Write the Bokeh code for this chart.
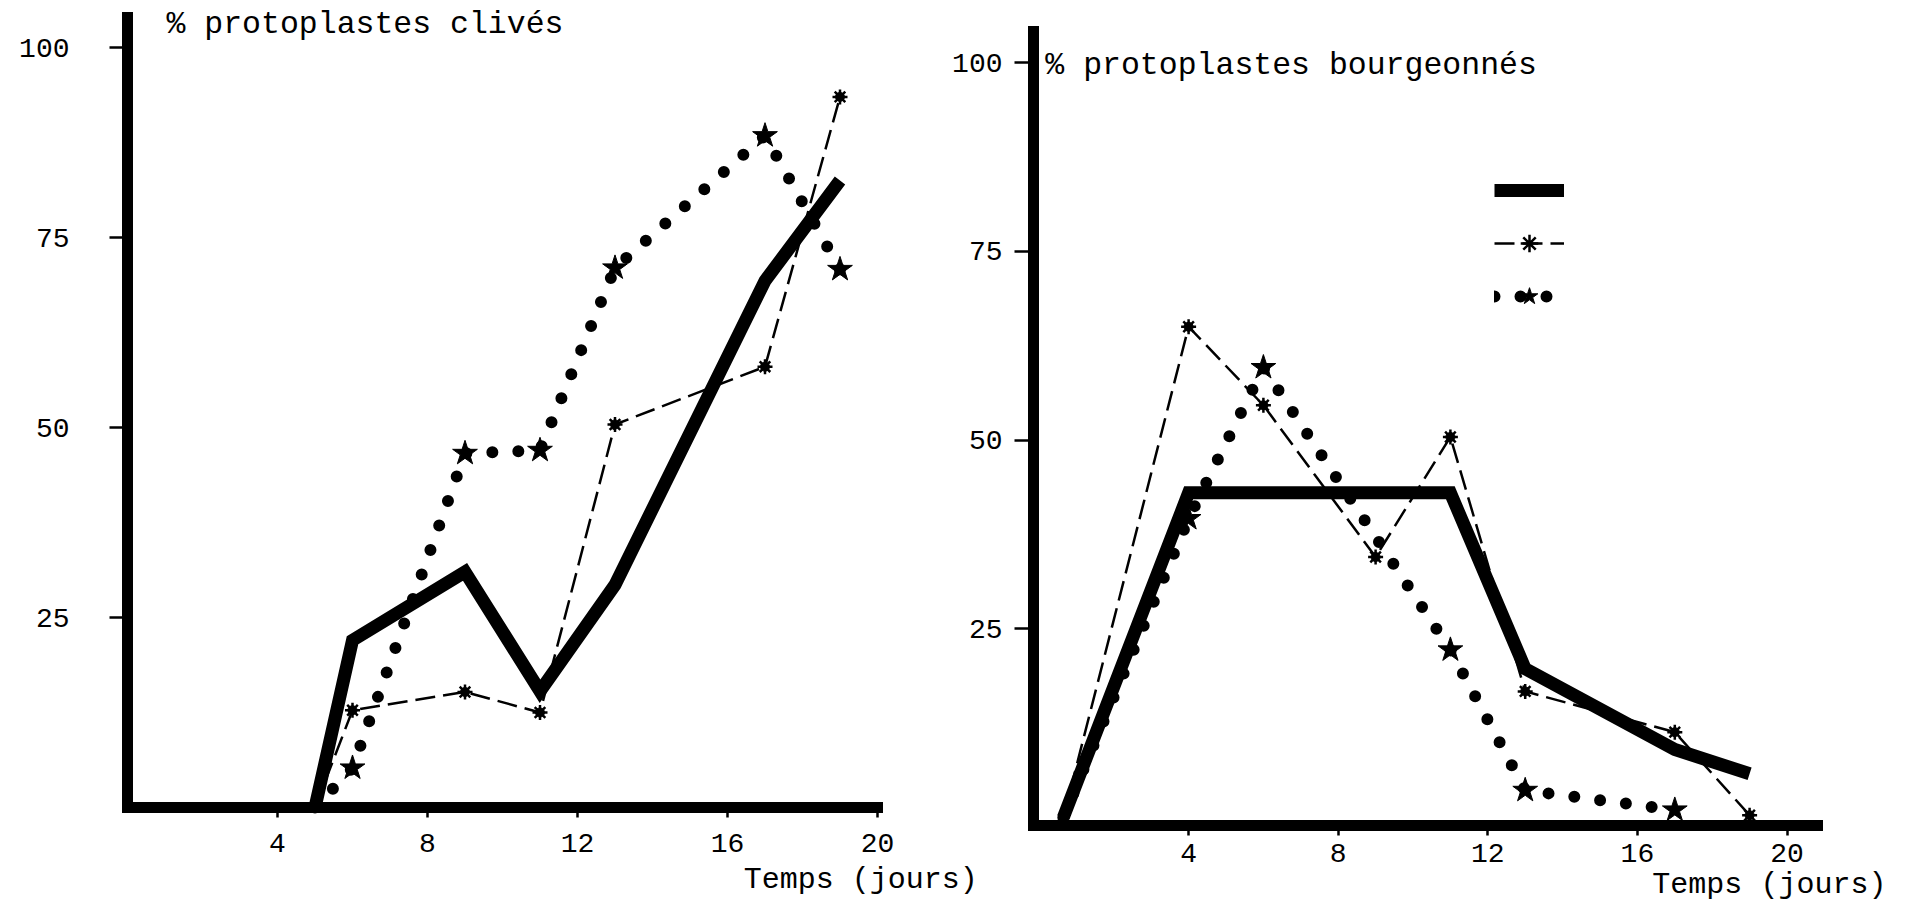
from bokeh.plotting import figure
from bokeh.models import FixedTicker, Label, Legend, LegendItem, Range1d, LinearAxis
from bokeh.embed import file_html
from bokeh.resources import INLINE

# ---------------- data ----------------
x_ticks = [4, 8, 12, 16, 20]
y_ticks = [25, 50, 75, 100]

left_title = "% protoplastes clivés"
right_title = "% protoplastes bourgeonnés"
x_title = "Temps (jours)"

# left panel : % protoplastes clivés
left_days_solid = [5, 6, 9, 11, 13, 17, 19]
left_solid = [0, 22, 31, 15.3, 29.3, 69.3, 82.5]
left_days_dashed = [5, 6, 9, 11, 13, 17, 19]
left_dashed = [0, 12.8, 15.2, 12.5, 50.4, 58, 93.5]
left_days_stars = [5, 6, 9, 11, 13, 17, 19]
left_stars = [0, 5.2, 46.6, 47, 71, 88.4, 70.8]

# right panel : % protoplastes bourgeonnés
right_days_solid = [0.65, 4, 11, 13, 17, 19]
right_solid = [0, 43, 43, 19.7, 9, 5.8]
right_days_dashed = [0.65, 4, 6, 9, 11, 13, 17, 19]
right_dashed = [0, 65, 54.6, 34.5, 50.4, 16.7, 11.3, 0.3]
right_days_stars = [0.65, 4, 6, 11, 13, 17]
right_stars = [0, 39.6, 59.6, 22.2, 3.6, 1.0]

FONT = "Liberation Mono"
W, H = 1918, 904

# one frame covering the whole page; each panel has its own ranges
p = figure(width=W, height=H,
           x_range=Range1d(-127 / 37.5, (W - 127) / 37.5),
           y_range=Range1d(-(H - 807) / 7.6, 807 / 7.6),
           x_axis_location=None, y_axis_location=None,
           min_border=0, min_border_left=0, min_border_right=0,
           min_border_top=0, min_border_bottom=0,
           output_backend="svg", toolbar_location=None,
           background_fill_color="white", border_fill_color="white",
           outline_line_color=None)
p.extra_x_ranges = {"rx": Range1d(-1038.5 / 37.4, (W - 1038.5) / 37.4)}
p.extra_y_ranges = {"ry": Range1d(-(H - 817) / 7.55, 817 / 7.55)}
p.grid.visible = False


def style_axis(ax, tick_out, standoff):
    ax.axis_line_width = 11
    ax.axis_line_color = "black"
    ax.axis_line_cap = "square"
    ax.major_tick_line_width = 2.5
    ax.major_tick_line_color = "black"
    ax.major_tick_in = 0
    ax.major_tick_out = tick_out
    ax.minor_tick_line_color = None
    ax.major_label_standoff = standoff
    ax.major_label_text_font = FONT
    ax.major_label_text_font_size = "28px"
    ax.major_label_text_color = "black"
    return ax


# left panel axes
lx = style_axis(LinearAxis(ticker=FixedTicker(ticks=x_ticks), fixed_location=0,
                           bounds=(0, 20.0)), 10, 16)
ly = style_axis(LinearAxis(ticker=FixedTicker(ticks=y_ticks), fixed_location=0,
                           bounds=(0, 103.9)), 18, 40)
p.add_layout(lx, "below")
p.add_layout(ly, "left")

# right panel axes
rx = style_axis(LinearAxis(ticker=FixedTicker(ticks=x_ticks), fixed_location=-1.06,
                           bounds=(-0.147, 20.815), x_range_name="rx",
                           y_range_name="ry"), 10, 8)
ry = style_axis(LinearAxis(ticker=FixedTicker(ticks=y_ticks), fixed_location=-0.147,
                           bounds=(-1.06, 104.1), x_range_name="rx",
                           y_range_name="ry"), 19, 12)
p.add_layout(rx, "below")
p.add_layout(ry, "left")


def draw_series(ds, s, dd, d, dt, t, **rn):
    r_solid = p.line(ds, s, line_width=13, line_color="black", line_join="miter", **rn)
    r_dash = p.line(dd, d, line_width=2.5, line_color="black", line_dash="20 8", **rn)
    r_dot = p.line(dt, t, line_width=12, line_color="black", line_dash="0 26",
                   line_cap="round", **rn)
    r_c = p.scatter(dd[1:], d[1:], marker="circle", size=9, color="black", **rn)
    r_a = p.scatter(dd[1:], d[1:], marker="asterisk", size=15, line_width=2.5,
                    line_color="black", **rn)
    r_s = p.scatter(dt[1:], t[1:], marker="star", size=26, color="black", **rn)
    return r_solid, r_dash, r_dot, r_c, r_a, r_s


draw_series(left_days_solid, left_solid, left_days_dashed, left_dashed,
            left_days_stars, left_stars)
rs = draw_series(right_days_solid, right_solid, right_days_dashed, right_dashed,
                 right_days_stars, right_stars, x_range_name="rx", y_range_name="ry")

text_style = dict(text_font=FONT, text_font_size="31.5px", text_color="black",
                  text_baseline="alphabetic")
bottom_style = dict(text_font=FONT, text_font_size="30px", text_color="black",
                    text_baseline="alphabetic")
p.add_layout(Label(x=1.04, y=103.0, text=left_title, **text_style))
p.add_layout(Label(x=16.43, y=-9.6, text=x_title, **bottom_style))
p.add_layout(Label(x=0.17, y=99.6, text=right_title, x_range_name="rx",
                   y_range_name="ry", **text_style))
p.add_layout(Label(x=16.4, y=-8.9, text=x_title, x_range_name="rx",
                   y_range_name="ry", **bottom_style))

legend = Legend(items=[
    LegendItem(label=" ", renderers=[rs[0]]),
    LegendItem(label=" ", renderers=[rs[1], rs[4]]),
    LegendItem(label=" ", renderers=[rs[2], rs[5]]),
], location=(1494, 586), glyph_width=70, glyph_height=44, label_height=44,
    label_width=0, label_standoff=0, label_text_font_size="1px", spacing=9,
    padding=0, margin=0, border_line_color=None, background_fill_alpha=0)
p.add_layout(legend)

open("out.html", "w").write(file_html(p, INLINE))
